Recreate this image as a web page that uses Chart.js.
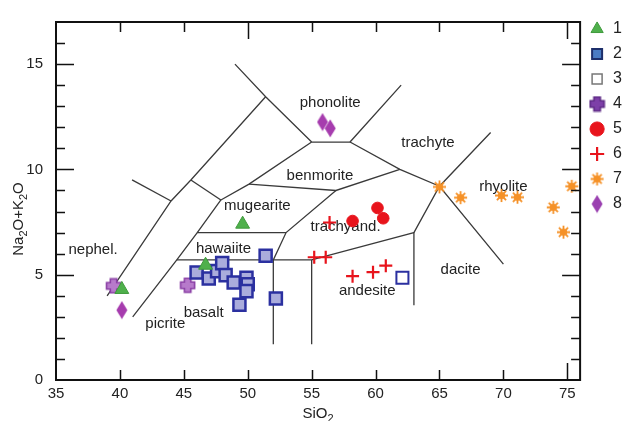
<!DOCTYPE html>
<html>
<head>
<meta charset="utf-8">
<script src="https://cdn.jsdelivr.net/npm/chart.js@4.4.1/dist/chart.umd.min.js"></script>
<style>
  body { margin: 0; background: #fff; }
  #wrap { width: 632px; height: 421px; }
</style>
</head>
<body>
<div id="wrap"><canvas id="tas"></canvas></div>
<script>
// axis ticks
const xTicks = [35, 40, 45, 50, 55, 60, 65, 70, 75];
const yTicks = [0, 5, 10, 15];
const ySideTicks = [1, 2, 3, 4, 5, 6, 7, 8, 9, 10, 11, 12, 13, 14, 15, 16];

// samples, [SiO2, Na2O+K2O]
const series1 = [[49.6, 7.4], [46.7, 5.45], [40.15, 4.3]];
const series2 = [[46.0, 5.1], [46.95, 4.82], [47.6, 5.17], [48.0, 5.55], [48.27, 4.98], [48.9, 4.63],
                 [49.9, 4.86], [50.0, 4.55], [49.9, 4.22], [49.35, 3.57], [51.4, 5.9], [52.2, 3.87]];
const series3 = [[62.1, 4.86]];
const series4 = [[39.5, 4.47], [45.3, 4.5]];
const series5 = [[58.2, 7.55], [60.15, 8.17], [60.6, 7.68]];
const series6 = [[55.2, 5.83], [56.1, 5.83], [56.4, 7.48], [58.2, 4.93], [59.8, 5.12], [60.8, 5.43]];
const series7 = [[65.0, 9.17], [66.65, 8.66], [69.85, 8.76], [71.1, 8.68], [73.9, 8.2], [75.35, 9.2], [74.7, 7.02]];
const series8 = [[55.85, 12.25], [56.45, 11.95], [40.15, 3.32]];

// field boundaries (polylines)
const boundaries = [
  [[49.0, 15.0], [51.4, 13.45], [55.0, 11.3]],
  [[51.4, 13.45], [45.55, 9.5], [44.0, 8.5], [39.0, 4.0]],
  [[40.95, 9.5], [44.0, 8.5]],
  [[45.55, 9.5], [47.9, 8.55]],
  [[47.9, 8.55], [50.1, 9.3], [55.0, 11.3]],
  [[50.1, 9.3], [56.9, 9.0], [61.9, 10.0]],
  [[56.9, 9.0], [53.0, 7.0], [52.0, 5.7], [52.0, 1.7]],
  [[47.9, 8.55], [46.05, 7.0], [44.45, 5.7], [41.0, 3.0]],
  [[46.05, 7.0], [53.0, 7.0]],
  [[44.45, 5.7], [55.0, 5.7], [63.0, 7.0], [63.0, 3.55]],
  [[55.0, 5.7], [55.0, 1.7]],
  [[55.0, 11.3], [58.0, 11.3], [62.0, 14.0]],
  [[58.0, 11.3], [61.9, 10.0], [65.0, 9.2], [70.0, 5.5]],
  [[69.0, 11.75], [65.0, 9.2], [63.0, 7.0]]
];

// field names
const fieldNames = ['nephel.', 'picrite', 'basalt', 'hawaiite', 'mugearite', 'benmorite',
                    'trachyand.', 'andesite', 'dacite', 'trachyte', 'phonolite', 'rhyolite'];
const fieldX = [37.9, 43.55, 46.55, 48.1, 50.75, 55.65, 57.65, 59.35, 66.65, 64.1, 56.45, 70.0];
const fieldY = [6.17, 2.65, 3.2, 6.24, 8.25, 9.71, 7.25, 4.24, 5.24, 11.26, 13.18, 9.17];

const FONT = 'Arial, "Liberation Sans", sans-serif';

function fatPlus(fill, stroke) {
  const c = document.createElement('canvas');
  c.width = 17; c.height = 17;
  const g = c.getContext('2d');
  const a = 3.2, r = 7, m = 8.5;
  const pts = [[-a,-r],[a,-r],[a,-a],[r,-a],[r,a],[a,a],[a,r],[-a,r],[-a,a],[-r,a],[-r,-a],[-a,-a]];
  g.beginPath();
  pts.forEach(([px, py], i) => i ? g.lineTo(m + px, m + py) : g.moveTo(m + px, m + py));
  g.closePath();
  g.fillStyle = fill; g.fill();
  g.lineWidth = 1.6; g.strokeStyle = stroke; g.stroke();
  return c;
}

function sunburst(color) {
  const c = document.createElement('canvas');
  c.width = 15; c.height = 15;
  const g = c.getContext('2d');
  g.strokeStyle = color; g.lineWidth = 1.8;
  g.beginPath();
  for (let i = 0; i < 8; i++) {
    const t = i * Math.PI / 4;
    g.moveTo(7.5, 7.5);
    g.lineTo(7.5 + Math.cos(t) * 6.5, 7.5 + Math.sin(t) * 6.5);
  }
  g.stroke();
  g.fillStyle = color;
  g.beginPath(); g.arc(7.5, 7.5, 3.6, 0, Math.PI * 2); g.fill();
  return c;
}

function diamond(color) {
  const c = document.createElement('canvas');
  c.width = 12; c.height = 19;
  const g = c.getContext('2d');
  g.beginPath();
  g.moveTo(6, 0.5); g.lineTo(11.5, 9.5); g.lineTo(6, 18.5); g.lineTo(0.5, 9.5);
  g.closePath();
  g.fillStyle = color; g.fill();
  return c;
}

const toXY = arr => arr.map(([x, y]) => ({x, y}));

const markerSets = [
  {label: '1', data: toXY(series1), pointStyle: 'triangle', pointRadius: 8,
   backgroundColor: '#4fb04c', borderColor: '#3f9a3c', borderWidth: 1},
  {label: '2', data: toXY(series2), pointStyle: 'rect', pointRadius: 8.5,
   backgroundColor: '#aaacdc', borderColor: '#2b30a0', borderWidth: 2.5},
  {label: '3', data: toXY(series3), pointStyle: 'rect', pointRadius: 8.5,
   backgroundColor: '#ffffff', borderColor: '#2b30a0', borderWidth: 2},
  {label: '4', data: toXY(series4), pointStyle: fatPlus('#b77acb', '#8a3fa5'),
   backgroundColor: '#8a4fb0', borderColor: '#8a3fa5', borderWidth: 1},
  {label: '5', data: toXY(series5), pointStyle: 'circle', pointRadius: 5.8,
   backgroundColor: '#e8141c', borderColor: '#e8141c', borderWidth: 1},
  {label: '6', data: toXY(series6), pointStyle: 'cross', pointRadius: 6.5,
   backgroundColor: '#e8141c', borderColor: '#e8141c', borderWidth: 2.2},
  {label: '7', data: toXY(series7), pointStyle: sunburst('#f59127'),
   backgroundColor: '#f59127', borderColor: '#f59127', borderWidth: 1},
  {label: '8', data: toXY(series8), pointStyle: diamond('#a63cae'),
   backgroundColor: '#a63cae', borderColor: '#a63cae', borderWidth: 1}
].map(d => Object.assign({showLine: false, pointBorderWidth: d.borderWidth,
  pointBackgroundColor: d.backgroundColor, pointBorderColor: d.borderColor}, d));

// the legend draws a few symbols in other shades than the plot
const legendLook = {
  '2': {fillStyle: '#4a7cc4', strokeStyle: '#1d2f6b', lineWidth: 2},
  '3': {strokeStyle: '#777', lineWidth: 1.5},
  '4': {pointStyle: fatPlus('#7d3fa8', '#5e2a85')},
  '8': {pointStyle: diamond('#9a40b0')}
};

const lineSets = boundaries.map(b => ({
  label: '',
  data: toXY(b),
  showLine: true,
  pointRadius: 0,
  borderColor: '#3a3a3a',
  borderWidth: 1.3
}));

const fieldLabels = {
  id: 'fieldLabels',
  beforeDatasetsDraw(chart) {
    const {ctx, scales: {x, y}} = chart;
    ctx.save();
    ctx.font = '15px ' + FONT;
    ctx.fillStyle = '#222';
    ctx.textAlign = 'center';
    ctx.textBaseline = 'middle';
    fieldNames.forEach((t, i) => ctx.fillText(t, x.getPixelForValue(fieldX[i]), y.getPixelForValue(fieldY[i])));
    ctx.restore();
  }
};

// draws parts like [['Na'], ['2', true], ...] with subscripts
function drawSub(ctx, parts, cx, cy) {
  const big = '15px ' + FONT, small = '11px ' + FONT;
  let w = 0;
  parts.forEach(([t, sub]) => { ctx.font = sub ? small : big; w += ctx.measureText(t).width; });
  let px = cx - w / 2;
  parts.forEach(([t, sub]) => {
    ctx.font = sub ? small : big;
    ctx.fillText(t, px, cy + (sub ? 4 : 0));
    px += ctx.measureText(t).width;
  });
}

const frameTicks = {
  id: 'frameTicks',
  afterDraw(chart) {
    const {ctx, chartArea: a, scales: {x, y}} = chart;
    ctx.save();
    ctx.strokeStyle = '#111';
    ctx.lineWidth = 2;
    ctx.strokeRect(a.left, a.top, a.right - a.left, a.bottom - a.top);
    ctx.lineWidth = 1.5;
    ctx.beginPath();
    ySideTicks.forEach(v => {
      const py = Math.round(y.getPixelForValue(v)) + 0.5;
      const len = yTicks.includes(v) ? 18 : 9;
      ctx.moveTo(a.left, py); ctx.lineTo(a.left + len, py);
      ctx.moveTo(a.right, py); ctx.lineTo(a.right - len, py);
    });
    xTicks.slice(1).forEach(v => {
      const px = Math.round(x.getPixelForValue(v)) + 0.5;
      const top = (v === 50 || v === 75) ? 17 : 10;
      const bottom = v === 75 ? 17 : 10;
      ctx.moveTo(px, a.top); ctx.lineTo(px, a.top + top);
      ctx.moveTo(px, a.bottom); ctx.lineTo(px, a.bottom - bottom);
    });
    ctx.stroke();

    // axis titles
    ctx.fillStyle = '#222';
    ctx.textAlign = 'left';
    ctx.textBaseline = 'alphabetic';
    drawSub(ctx, [['Si'], ['O'], ['2', true]], (a.left + a.right) / 2, 418);
    ctx.translate(23, (a.top + a.bottom) / 2 + 18);
    ctx.rotate(-Math.PI / 2);
    drawSub(ctx, [['Na'], ['2', true], ['O+K'], ['2', true], ['O']], 0, 0);
    ctx.restore();
  }
};

new Chart(document.getElementById('tas'), {
  type: 'scatter',
  data: {datasets: markerSets.concat(lineSets)},
  options: {
    responsive: true,
    maintainAspectRatio: false,
    animation: false,
    layout: {padding: {top: 12, left: 0, right: 0, bottom: 0}},
    scales: {
      x: {
        type: 'linear', min: 35, max: 76,
        grid: {display: false, drawTicks: false},
        border: {display: false},
        afterBuildTicks: s => { s.ticks = xTicks.map(v => ({value: v})); },
        afterFit: s => { s.height = 41; },
        ticks: {padding: 5, color: '#222', font: {size: 15, family: FONT}, maxRotation: 0}
      },
      y: {
        type: 'linear', min: 0, max: 17,
        grid: {display: false, drawTicks: false},
        border: {display: false},
        afterBuildTicks: s => { s.ticks = yTicks.map(v => ({value: v})); },
        afterFit: s => { s.width = 56; },
        ticks: {padding: 13, color: '#222', font: {size: 15, family: FONT}}
      }
    },
    plugins: {
      tooltip: {enabled: false},
      legend: {
        position: 'right',
        align: 'start',
        labels: {
          usePointStyle: true,
          boxHeight: 10,
          padding: 9,
          color: '#222',
          font: {size: 16, family: FONT},
          generateLabels: chart => Chart.defaults.plugins.legend.labels.generateLabels(chart)
            .filter(item => item.text !== '')
            .map(item => Object.assign(item, legendLook[item.text] || {}))
        }
      }
    }
  },
  plugins: [fieldLabels, frameTicks]
});
</script>
</body>
</html>
